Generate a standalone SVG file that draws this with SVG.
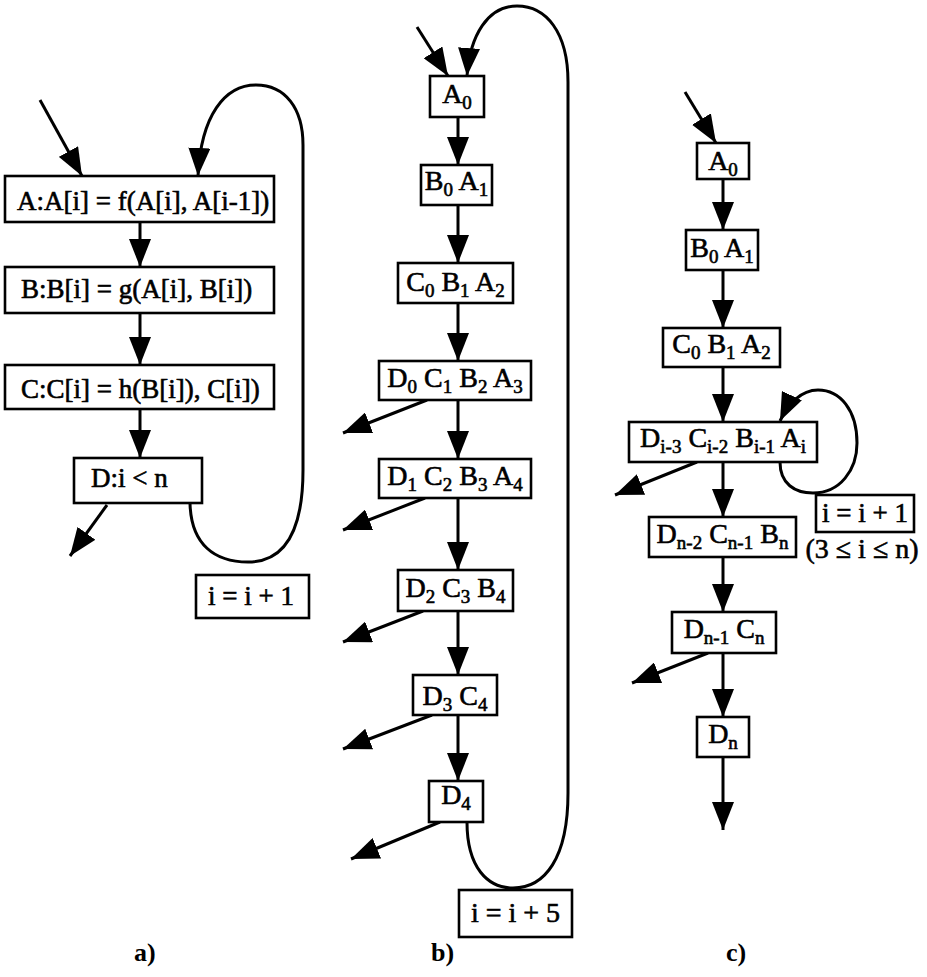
<svg xmlns="http://www.w3.org/2000/svg" width="927" height="977" viewBox="0 0 927 977">
<style>
.bx{fill:#fff;stroke:#000;stroke-width:2.6}
.t{font-family:"Liberation Serif","Times New Roman",serif;font-size:27px;fill:#000;stroke:#000;stroke-width:0.6}
.u{font-size:28px}
.m{text-anchor:middle}
.s{font-size:19px}
.lb{font-family:"Liberation Serif","Times New Roman",serif;font-size:26px;font-weight:bold;fill:#000}
.c{fill:none;stroke:#000;stroke-width:3}
</style>
<defs>
<marker id="ah" markerUnits="userSpaceOnUse" markerWidth="30" markerHeight="22" refX="28" refY="11" orient="auto" viewBox="0 0 30 22">
<path d="M0,0 L28,11 L0,22 z" fill="#000"/>
</marker>
</defs>
<rect width="927" height="977" fill="#fff"/>

<g id="connectors">
<!-- panel a -->
<path class="c" d="M40,100 L82,176" marker-end="url(#ah)"/>
<path class="c" d="M140,222 L140,267" marker-end="url(#ah)"/>
<path class="c" d="M140,313 L140,365" marker-end="url(#ah)"/>
<path class="c" d="M140,409 L140,458" marker-end="url(#ah)"/>
<path class="c" d="M107,505 L70,556" marker-end="url(#ah)"/>
<path class="c" d="M190,503 C191,545 215,562 248,562 C285,562 303,530 303,470 L303,145 C303,108 285,85 256,85 C225,85 201,115 198,176" marker-end="url(#ah)"/>
<!-- panel b -->
<path class="c" d="M417,27 L448,76" marker-end="url(#ah)"/>
<path class="c" d="M458,117 L458,165" marker-end="url(#ah)"/>
<path class="c" d="M458,205 L458,263" marker-end="url(#ah)"/>
<path class="c" d="M458,303 L458,361" marker-end="url(#ah)"/>
<path class="c" d="M458,400 L458,459" marker-end="url(#ah)"/>
<path class="c" d="M458,498 L458,570" marker-end="url(#ah)"/>
<path class="c" d="M458,611 L458,675" marker-end="url(#ah)"/>
<path class="c" d="M458,715 L458,781" marker-end="url(#ah)"/>
<path class="c" d="M427,400 L343,433" marker-end="url(#ah)"/>
<path class="c" d="M425,498 L343,530" marker-end="url(#ah)"/>
<path class="c" d="M423,611 L343,642" marker-end="url(#ah)"/>
<path class="c" d="M432,715 L343,749" marker-end="url(#ah)"/>
<path class="c" d="M440,822 L351,859" marker-end="url(#ah)"/>
<path class="c" d="M467,822 C467,868 488,888 513,888 C545,888 568,858 568,793 L568,82 C568,32 546,6 517,6 C488,6 470,35 467,76" marker-end="url(#ah)"/>
<!-- panel c -->
<path class="c" d="M685,92 L716,143" marker-end="url(#ah)"/>
<path class="c" d="M723,179 L723,230" marker-end="url(#ah)"/>
<path class="c" d="M723,270 L723,328" marker-end="url(#ah)"/>
<path class="c" d="M723,367 L723,422" marker-end="url(#ah)"/>
<path class="c" d="M723,462 L723,517" marker-end="url(#ah)"/>
<path class="c" d="M723,557 L723,612" marker-end="url(#ah)"/>
<path class="c" d="M723,653 L723,717" marker-end="url(#ah)"/>
<path class="c" d="M723,757 L723,830" marker-end="url(#ah)"/>
<path class="c" d="M697,462 L615,495" marker-end="url(#ah)"/>
<path class="c" d="M708,653 L632,683" marker-end="url(#ah)"/>
<path class="c" d="M780,462 C780,484 795,493 813,493 C840,493 857,470 857,443 C857,410 840,390 818,390 C801,390 788,404 780,421" marker-end="url(#ah)"/>
</g>

<!-- panel a nodes -->
<g id="a-A"><rect class="bx" x="5" y="176" width="269" height="46"/><text class="t" x="17" y="210">A:A[i] = f(A[i], A[i-1])</text></g>
<g id="a-B"><rect class="bx" x="5" y="267" width="269" height="46"/><text class="t" x="21" y="298">B:B[i] = g(A[i], B[i])</text></g>
<g id="a-C"><rect class="bx" x="5" y="365" width="269" height="44"/><text class="t" x="21" y="398">C:C[i] = h(B[i]), C[i])</text></g>
<g id="a-D"><rect class="bx" x="74" y="458" width="128" height="45"/><text class="t" x="91" y="487">D:i &lt; n</text></g>
<g id="a-inc"><rect class="bx" x="196" y="575" width="113" height="43"/><text class="t m" x="251" y="605">i = i + 1</text></g>

<!-- panel b nodes -->
<g id="b-1"><rect class="bx" x="430" y="76" width="54" height="41"/><text class="t u m" x="457" y="103">A<tspan class="s" dy="6">0</tspan></text></g>
<g id="b-2"><rect class="bx" x="421" y="165" width="71" height="40"/><text class="t u m" x="456.5" y="190">B<tspan class="s" dy="6">0</tspan><tspan dy="-6"> A</tspan><tspan class="s" dy="6">1</tspan></text></g>
<g id="b-3"><rect class="bx" x="398" y="263" width="115" height="40"/><text class="t u m" x="455.5" y="291">C<tspan class="s" dy="6">0</tspan><tspan dy="-6"> B</tspan><tspan class="s" dy="6">1</tspan><tspan dy="-6"> A</tspan><tspan class="s" dy="6">2</tspan></text></g>
<g id="b-4"><rect class="bx" x="379" y="361" width="152" height="39"/><text class="t u m" x="455" y="387">D<tspan class="s" dy="6">0</tspan><tspan dy="-6"> C</tspan><tspan class="s" dy="6">1</tspan><tspan dy="-6"> B</tspan><tspan class="s" dy="6">2</tspan><tspan dy="-6"> A</tspan><tspan class="s" dy="6">3</tspan></text></g>
<g id="b-5"><rect class="bx" x="379" y="459" width="152" height="39"/><text class="t u m" x="455" y="485">D<tspan class="s" dy="6">1</tspan><tspan dy="-6"> C</tspan><tspan class="s" dy="6">2</tspan><tspan dy="-6"> B</tspan><tspan class="s" dy="6">3</tspan><tspan dy="-6"> A</tspan><tspan class="s" dy="6">4</tspan></text></g>
<g id="b-6"><rect class="bx" x="398" y="570" width="115" height="41"/><text class="t u m" x="455.5" y="597">D<tspan class="s" dy="6">2</tspan><tspan dy="-6"> C</tspan><tspan class="s" dy="6">3</tspan><tspan dy="-6"> B</tspan><tspan class="s" dy="6">4</tspan></text></g>
<g id="b-7"><rect class="bx" x="413" y="675" width="84" height="40"/><text class="t u m" x="455" y="705">D<tspan class="s" dy="6">3</tspan><tspan dy="-6"> C</tspan><tspan class="s" dy="6">4</tspan></text></g>
<g id="b-8"><rect class="bx" x="429" y="781" width="54" height="41"/><text class="t u m" x="456" y="804">D<tspan class="s" dy="6">4</tspan></text></g>
<g id="b-inc"><rect class="bx" x="459" y="890" width="113" height="47"/><text class="t u m" x="515.5" y="922">i = i + 5</text></g>

<!-- panel c nodes -->
<g id="c-1"><rect class="bx" x="697" y="143" width="52" height="36"/><text class="t u m" x="723" y="170">A<tspan class="s" dy="6">0</tspan></text></g>
<g id="c-2"><rect class="bx" x="686" y="230" width="72" height="40"/><text class="t u m" x="722" y="257">B<tspan class="s" dy="6">0</tspan><tspan dy="-6"> A</tspan><tspan class="s" dy="6">1</tspan></text></g>
<g id="c-3"><rect class="bx" x="663" y="328" width="117" height="39"/><text class="t u m" x="721.5" y="353">C<tspan class="s" dy="6">0</tspan><tspan dy="-6"> B</tspan><tspan class="s" dy="6">1</tspan><tspan dy="-6"> A</tspan><tspan class="s" dy="6">2</tspan></text></g>
<g id="c-4"><rect class="bx" x="629" y="422" width="188" height="40"/><text class="t u m" x="723" y="447">D<tspan class="s" dy="6">i-3</tspan><tspan dy="-6"> C</tspan><tspan class="s" dy="6">i-2</tspan><tspan dy="-6"> B</tspan><tspan class="s" dy="6">i-1</tspan><tspan dy="-6"> A</tspan><tspan class="s" dy="6">i</tspan></text></g>
<g id="c-inc"><rect class="bx" x="816" y="495" width="98" height="37"/><text class="t m" x="865" y="522">i = i + 1</text><text class="t u m" x="862" y="558">(3 ≤ i ≤ n)</text></g>
<g id="c-5"><rect class="bx" x="649" y="517" width="147" height="40"/><text class="t u m" x="722.5" y="543">D<tspan class="s" dy="6">n-2</tspan><tspan dy="-6"> C</tspan><tspan class="s" dy="6">n-1</tspan><tspan dy="-6"> B</tspan><tspan class="s" dy="6">n</tspan></text></g>
<g id="c-6"><rect class="bx" x="672" y="612" width="104" height="41"/><text class="t u m" x="724" y="638">D<tspan class="s" dy="6">n-1</tspan><tspan dy="-6"> C</tspan><tspan class="s" dy="6">n</tspan></text></g>
<g id="c-7"><rect class="bx" x="697" y="717" width="52" height="40"/><text class="t u m" x="723" y="743">D<tspan class="s" dy="6">n</tspan></text></g>

<g id="labels">
<text class="lb" x="134" y="961">a)</text>
<text class="lb" x="431" y="961">b)</text>
<text class="lb" x="726" y="961">c)</text>
</g>
</svg>
